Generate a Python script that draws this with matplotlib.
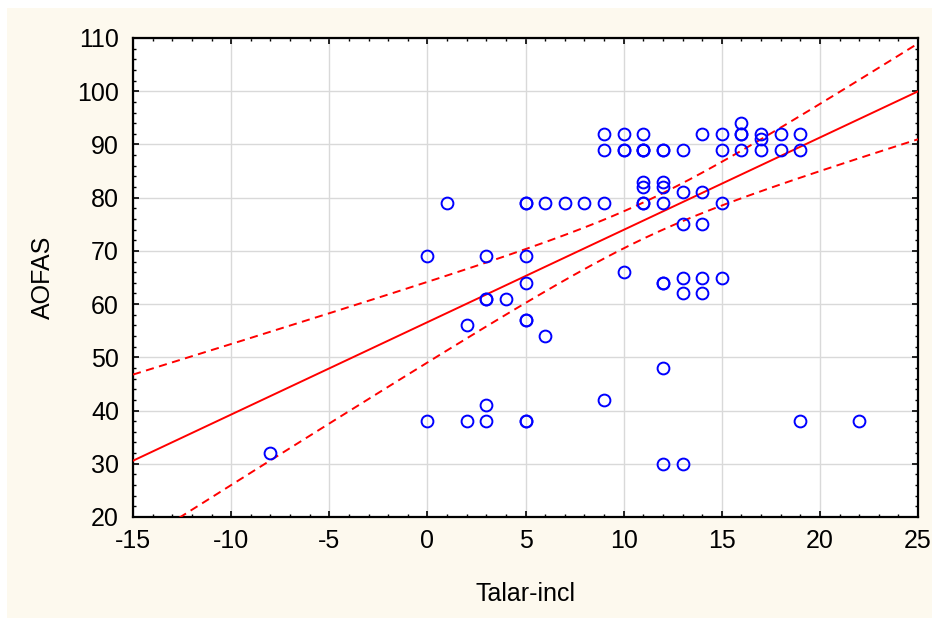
import matplotlib
matplotlib.use("Agg")
import matplotlib.pyplot as plt
from matplotlib.patches import Rectangle
from matplotlib.ticker import MultipleLocator
import numpy as np

plt.rcParams['font.family'] = ['Liberation Sans', 'DejaVu Sans']
plt.rcParams['axes.unicode_minus'] = False

# Talar inclination vs AOFAS score (circles that look
# heavier in the picture are counted as repeated cases)
talar_incl = [-8,
              0, 0,
              1,
              2, 2,
              3, 3, 3, 3, 3,
              4,
              5, 5, 5, 5, 5, 5, 5, 5,
              6, 6,
              7,
              8,
              9, 9, 9, 9,
              10, 10, 10, 10,
              11, 11, 11, 11, 11, 11, 11, 11,
              12, 12, 12, 12, 12, 12, 12, 12, 12,
              13, 13, 13, 13, 13, 13,
              14, 14, 14, 14, 14,
              15, 15, 15, 15,
              16, 16, 16, 16,
              17, 17, 17,
              18, 18,
              19, 19, 19,
              22]
aofas = [32,
         69, 38,
         79,
         56, 38,
         69, 61, 61, 41, 38,
         61,
         79, 79, 69, 64, 57, 57, 38, 38,
         79, 54,
         79,
         79,
         92, 89, 79, 42,
         92, 89, 89, 66,
         92, 89, 89, 89, 83, 82, 79, 79,
         89, 89, 83, 82, 79, 64, 64, 48, 30,
         89, 81, 75, 65, 62, 30,
         92, 81, 75, 65, 62,
         92, 89, 79, 65,
         94, 92, 92, 89,
         92, 91, 89,
         92, 89,
         92, 89, 38,
         38]

# regression summary as drawn in the chart (the full case list is not
# recoverable because many cases sit exactly on top of each other)
fit_intercept = 56.6
fit_slope = 1.735
band_center_x = 11.2      # where the 95% band is narrowest
band_min_half = 3.4       # half-width of the band there
band_growth = 0.604       # how fast the half-width opens up with |x - centre|

x = np.array(talar_incl, dtype=float)
y = np.array(aofas, dtype=float)

xs = np.linspace(-15, 25, 300)
fit = fit_intercept + fit_slope * xs
half = np.sqrt(band_min_half ** 2 + (band_growth * (xs - band_center_x)) ** 2)

fig = plt.figure(figsize=(9.32, 6.18), dpi=100, facecolor='white')
fig.patches.append(Rectangle((7 / 932, 0), 1 - 7 / 932, 1 - 8 / 618,
                             transform=fig.transFigure,
                             facecolor='#fdf9ee', edgecolor='none',
                             zorder=-10))
ax = fig.add_axes([133 / 932, 101 / 618, 785 / 932, 479 / 618])
ax.set_facecolor('white')

ax.plot(xs, fit, color='red', lw=1.4, zorder=3)
ax.plot(xs, fit + half, color='red', lw=1.4, ls=(0, (4.2, 2.8)), zorder=3)
ax.plot(xs, fit - half, color='red', lw=1.4, ls=(0, (4.2, 2.8)), zorder=3)
ax.plot(x, y, 'o', mfc='none', mec='#0000ff', ms=8.5, mew=1.4, zorder=4)

ax.set_xlim(-15, 25)
ax.set_ylim(20, 110)
ax.xaxis.set_major_locator(MultipleLocator(5))
ax.xaxis.set_minor_locator(MultipleLocator(1))
ax.yaxis.set_major_locator(MultipleLocator(10))
ax.yaxis.set_minor_locator(MultipleLocator(2))
ax.grid(True, which='major', color='#d9d9d9', lw=1.0, zorder=0)
ax.set_axisbelow(True)

ax.tick_params(which='both', direction='in', top=True, right=True,
               colors='black', labelsize=18)
ax.tick_params(which='major', length=4, width=1.2)
ax.tick_params(which='minor', length=2.5, width=1.0)
ax.tick_params(axis='x', which='major', pad=8.5)
ax.tick_params(axis='y', which='major', pad=10)
for sp in ax.spines.values():
    sp.set_linewidth(1.6)
    sp.set_color('black')

ax.set_xlabel('Talar-incl', fontsize=18, labelpad=21)
ax.set_ylabel('AOFAS', fontsize=18, labelpad=16)

fig.savefig('out.png', dpi=100, facecolor=fig.get_facecolor())
